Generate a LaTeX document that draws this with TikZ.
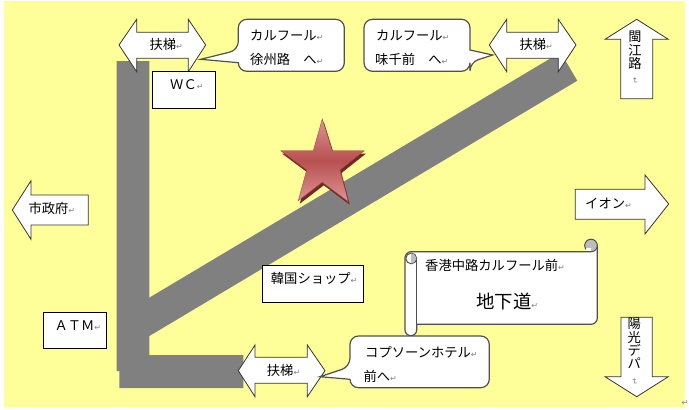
\documentclass[tikz,border=0pt]{standalone}
\usepackage{fontspec}
\setmainfont{Noto Sans CJK JP}
\newfontfamily\retfont{DejaVu Sans}
\usepackage{tikz}
\definecolor{mapyellow}{HTML}{FFFF99}
\definecolor{roadgray}{HTML}{808080}
\definecolor{edgegray}{HTML}{505050}
\definecolor{curlgray}{HTML}{BDBDBD}
\definecolor{starlight}{HTML}{DE9494}
\definecolor{starmid}{HTML}{B85050}
\definecolor{stardark}{HTML}{742626}
\newcommand{\retmark}{{\retfont\fontsize{8}{8}\selectfont\textcolor{gray}{↵}}}
\newcommand{\retmarkv}{\rotatebox{-90}{\retmark}}

\begin{document}
\begin{tikzpicture}[
    x=1pt, y=-1pt,
    road/.style={fill=roadgray, draw=none},
    blockarrow/.style={draw=black!80, fill=white, line width=0.8pt, line join=miter},
    balloon/.style={draw=edgegray, fill=white, line width=1.2pt},
    labelbox/.style={draw=black, fill=white, line width=0.9pt, anchor=north west, inner sep=0pt},
    txt/.style={anchor=west, inner sep=0pt, font=\fontsize{13.3}{16}\selectfont},
    bigtxt/.style={txt, font=\fontsize{18.4}{22}\selectfont},
    vtxt/.style={anchor=north, inner sep=0pt, align=center, font=\fontsize{13.3}{13.3}\selectfont}
]
\useasboundingbox (0,0) rectangle (689,410);
\fill[mapyellow] (4,1) rectangle (685,407);

% Roads
\fill[road] (116.7,61) -- (149.3,61) -- (149.3,355) -- (243.3,355) -- (243.3,388) -- (119.3,388) -- (119.3,371) -- (116.7,371) -- cycle;
\fill[road] (140,303.2) -- (560.5,52.4) -- (577.3,80.7) -- (140,341.6) -- cycle;

% Star
\fill[stardark] (323.8,122) -- (333.8,153.7) -- (365.8,153.7) -- (341.5,173) -- (349.8,204.7) -- (323.8,185.3) -- (299.8,203.7) -- (308.2,173) -- (282.2,153.7) -- (314.8,153.7) -- cycle;
\path[draw=starmid!85!black, line width=0.4pt, top color=starlight, bottom color=starlight, middle color=starmid]
    (322.3,119) -- (332.3,150.7) -- (364.3,150.7) -- (340,170) -- (348.3,201.7) -- (322.3,182.3) -- (298.3,200.7) -- (306.7,170) -- (280.7,150.7) -- (313.3,150.7) -- cycle;

% Escalator, top left
\draw[blockarrow] (119,45) -- (136.7,19.3) -- (136.7,32.3) -- (188.3,32.3) -- (188.3,19.3) -- (205.7,45) -- (188.3,71.7) -- (188.3,58.3) -- (136.7,58.3) -- (136.7,71.7) -- cycle;
\node[txt] (escleft) at (149.3,44.5) {扶梯\retmark};
\node[labelbox, minimum width=62.4pt, minimum height=37.3pt] (wcbox) at (152.3,71) {};
\node[txt] (wctext) at (170,85) {ＷＣ\retmark};

% Balloon to Xuzhou road
\draw[balloon] (238.3,62.7) [rounded corners=8.5pt] -- (238.3,71.3) -- (344.3,71.3) -- (344.3,19.3) -- (238.3,19.3) -- (238.3,50) [sharp corners] -- (200.7,59.3) -- cycle;
\node[txt] (carrefourleft) at (250,35) {カルフール\retmark};
\node[txt] (xuzhou) at (250,59) {徐州路　へ\retmark};

% Balloon to Ajisen, escalator top right
\draw[blockarrow] (489.3,45) -- (506.7,19.3) -- (506.7,32.3) -- (558.3,32.3) -- (558.3,19.3) -- (576,45) -- (558.3,71.7) -- (558.3,58.3) -- (506.7,58.3) -- (506.7,71.7) -- cycle;
\node[txt] (escright) at (519.3,44.5) {扶梯\retmark};
\draw[balloon] (470,50) [rounded corners=8.5pt] -- (470,19.3) -- (364,19.3) -- (364,71.3) -- (470,71.3) -- (470,62.3) [sharp corners] -- (492.7,55) -- cycle;
\node[txt] (carrefourright) at (376,35) {カルフール\retmark};
\node[txt] (ajisen) at (375,59) {味千前　へ\retmark};

% Outer arrows
\draw[blockarrow] (636.7,19.3) -- (668.3,39.3) -- (652.7,39.3) -- (652.7,98.7) -- (620.7,98.7) -- (620.7,39.3) -- (605,39.3) -- cycle;
\node[vtxt] (minjiang) at (635,31) {閩\\江\\路\\[-4pt]\retmarkv};
\draw[blockarrow] (668.7,204) -- (645,234) -- (645,219.3) -- (575.3,219.3) -- (575.3,189.3) -- (645,189.3) -- (645,175) -- cycle;
\node[txt] (aeon) at (585,203) {イオン\retmark};
\draw[blockarrow] (636.7,396.7) -- (605,376.7) -- (621,376.7) -- (621,317.3) -- (652.3,317.3) -- (652.3,376.7) -- (668.3,376.7) -- cycle;
\node[vtxt] (sunshine) at (634.3,318) {陽\\光\\デ\\パ\\[-4pt]\retmarkv};
\draw[blockarrow] (12.3,210) -- (31,180.7) -- (31,195) -- (88.3,195) -- (88.3,225) -- (31,225) -- (31,239.3) -- cycle;
\node[txt] (cityhall) at (28.3,208.3) {市政府\retmark};

% Shop boxes
\node[labelbox, minimum width=62.4pt, minimum height=36pt] (atmbox) at (43.3,312.3) {};
\node[txt] (atmtext) at (54.3,326) {ＡＴＭ\retmark};
\node[labelbox, minimum width=101pt, minimum height=37.3pt] (shopbox) at (262.3,265) {};
\node[txt] (shoptext) at (270.7,278.3) {韓国ショップ\retmark};

% Scroll
\draw[balloon] (405,257.9) arc (180:90:6.2pt) -- (590,251.7) -- (597.3,245.5) -- (597.3,318) arc (0:-90:6.3pt) -- (416.7,324.3) -- (416.7,329.85) arc (0:-180:5.85pt) -- cycle;
\draw[balloon] (416.7,258) -- (416.7,324.3);
\draw[balloon, fill=curlgray, line width=1pt] (591,245.5) circle (6.3pt);
\fill[white] (586,248) rectangle (591,250.8);
\draw[balloon, line width=1pt] (411.2,258.4) circle (5.4pt);
\fill[curlgray] (411.2,253.4) arc (90:-90:5pt) -- cycle;
\node[txt] (hongkong) at (425,265) {香港中路カルフール前\retmark};
\node[bigtxt] (subway) at (476,301.7) {地下道\retmark};

% Escalator bottom, balloon to Copthorne
\draw[blockarrow] (238.3,370.7) -- (255,345) -- (255,357.3) -- (307.3,357.3) -- (307.3,345) -- (325,370.7) -- (307.3,396.7) -- (307.3,383.3) -- (255,383.3) -- (255,396.7) -- cycle;
\node[txt] (escbottom) at (266.7,370) {扶梯\retmark};
\draw[balloon] (350,379.3) [rounded corners=8.5pt] -- (350,387.7) -- (489.3,387.7) -- (489.3,336) -- (350,336) -- (350,366.7) [sharp corners] -- (320,376.7) -- cycle;
\node[txt] (copthorne) at (365,352.3) {コプソーンホテル\retmark};
\node[txt] (copthornemae) at (363.3,376.7) {前へ\retmark};

% Stray mark at the page edge
\node[txt] (edgemark) at (681.5,403) {\retmark};
\end{tikzpicture}
\end{document}
